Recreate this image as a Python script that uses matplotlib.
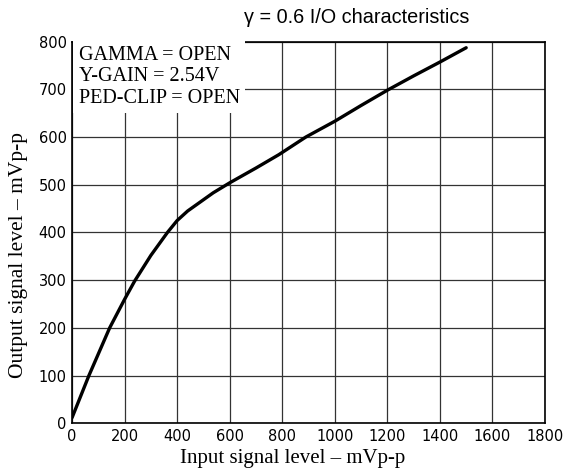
import matplotlib.pyplot as plt

# curve (input mVp-p -> output mVp-p)
input_mv = [0, 64, 143, 200, 238, 300, 363, 400, 440, 537, 600, 700, 787, 890, 1000, 1100, 1200, 1300, 1400, 1500]
output_mv = [12, 100, 200, 260, 298, 352, 400, 425, 445, 483, 504, 535, 563, 600, 633, 666, 698, 728, 757, 787]

x_ticks = [0, 200, 400, 600, 800, 1000, 1200, 1400, 1600, 1800]
x_tick_labels = ['0', '200', '400', '600', '800', '1000', '1200', '1400', '1600', '1800']
y_ticks = [0, 100, 200, 300, 400, 500, 600, 700, 800]

settings = ['GAMMA = OPEN', 'Y-GAIN = 2.54V', 'PED-CLIP = OPEN']

fig = plt.figure(figsize=(5.63, 4.72), dpi=100)
ax = fig.add_axes([0.128, 0.103, 0.84, 0.809])

ax.plot(input_mv, output_mv, color='black', linewidth=2.4, solid_capstyle='round')

ax.set_xlim(0, 1800)
ax.set_ylim(0, 800)
ax.set_xticks(x_ticks)
ax.set_xticklabels(x_tick_labels)
ax.set_yticks(y_ticks)
ax.tick_params(length=0, pad=4, labelsize=10.5)
ax.grid(True, color='#333333', linewidth=0.9)
for s in ax.spines.values():
    s.set_linewidth(1.2)

ax.set_xlabel('Input signal level – mVp-p', family='Liberation Serif', fontsize=15)
ax.xaxis.set_label_coords(0.467, -0.066)
ax.set_ylabel('Output signal level – mVp-p', family='Liberation Serif', fontsize=15.5)
ax.yaxis.set_label_coords(-0.093, 0.44)
fig.text(0.634, 0.963, 'γ = 0.6 I/O characteristics', family='Liberation Sans',
         fontsize=14.3, ha='center', va='center')

ax.text(0.014, 0.988, '\n'.join(settings), transform=ax.transAxes, va='top', ha='left',
        family='Liberation Serif', fontsize=14.5, linespacing=1.16,
        bbox=dict(facecolor='white', edgecolor='none', pad=4), zorder=5)

fig.savefig('out.png', dpi=100)
